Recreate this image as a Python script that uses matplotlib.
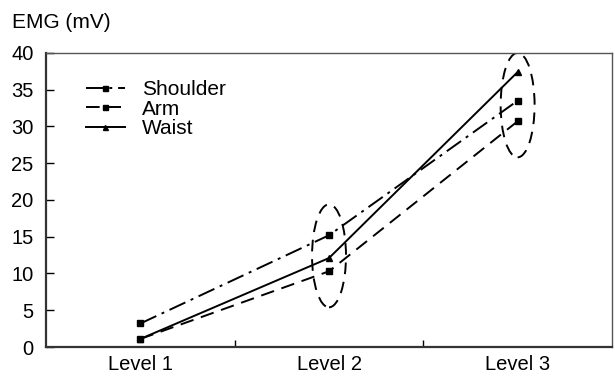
import numpy as np
import matplotlib
matplotlib.use("Agg")
import matplotlib.pyplot as plt
from matplotlib.patches import Ellipse

plt.rcParams['font.family'] = ['Liberation Sans', 'DejaVu Sans']

# data
levels = ["Level 1", "Level 2", "Level 3"]
shoulder = [3.2, 15.2, 33.5]
arm = [1.1, 10.3, 30.7]
waist = [1.1, 12.1, 37.4]

# highlighted groups (level index, centre value, height)
ellipse_level = [1, 2]
ellipse_centre = [12.4, 32.9]
ellipse_height = [14.0, 14.2]

x = np.arange(len(levels))

fig = plt.figure(figsize=(6.15, 3.78), dpi=100)
ax = fig.add_axes([0.075, 0.082, 0.92, 0.778])

ax.plot(x, shoulder, color='black', lw=1.4, dashes=[9, 3, 1.5, 3],
        marker='s', ms=4.5, label='Shoulder')
ax.plot(x, arm, color='black', lw=1.4, dashes=[7, 4],
        marker='s', ms=4.5, label='Arm')
ax.plot(x, waist, color='black', lw=1.4, linestyle='-',
        marker='^', ms=4.5, label='Waist')

for lv, c, h in zip(ellipse_level, ellipse_centre, ellipse_height):
    ax.add_patch(Ellipse((x[lv], c), 0.18, h, fill=False, edgecolor='black',
                         lw=1.4, linestyle=(0, (6, 4))))

ax.set_xlim(-0.5, 2.5)
ax.set_ylim(0, 40)
ax.set_yticks(np.arange(0, 41, 5))
ax.set_xticks(x)
ax.set_xticklabels(levels)
ax.set_xticks([0.5, 1.5], minor=True)
ax.tick_params(axis='x', which='major', length=0, labelsize=14.5, pad=6)
ax.tick_params(axis='x', which='minor', direction='in', length=5, width=1)
ax.tick_params(axis='y', direction='in', length=6, width=1, labelsize=14.5, pad=9)

for s in ['left', 'bottom']:
    ax.spines[s].set_linewidth(1.6)
    ax.spines[s].set_color('#333333')
for s in ['top', 'right']:
    ax.spines[s].set_linewidth(1.0)
    ax.spines[s].set_color('#555555')

fig.text(0.02, 0.926, 'EMG (mV)', fontsize=15)

ax.legend(loc='upper left', bbox_to_anchor=(0.055, 0.935), frameon=False,
          fontsize=15, handlelength=1.9, handletextpad=0.8, labelspacing=0.02,
          borderaxespad=0, markerscale=0.8)

fig.savefig("out.png", dpi=100)
plt.close(fig)
